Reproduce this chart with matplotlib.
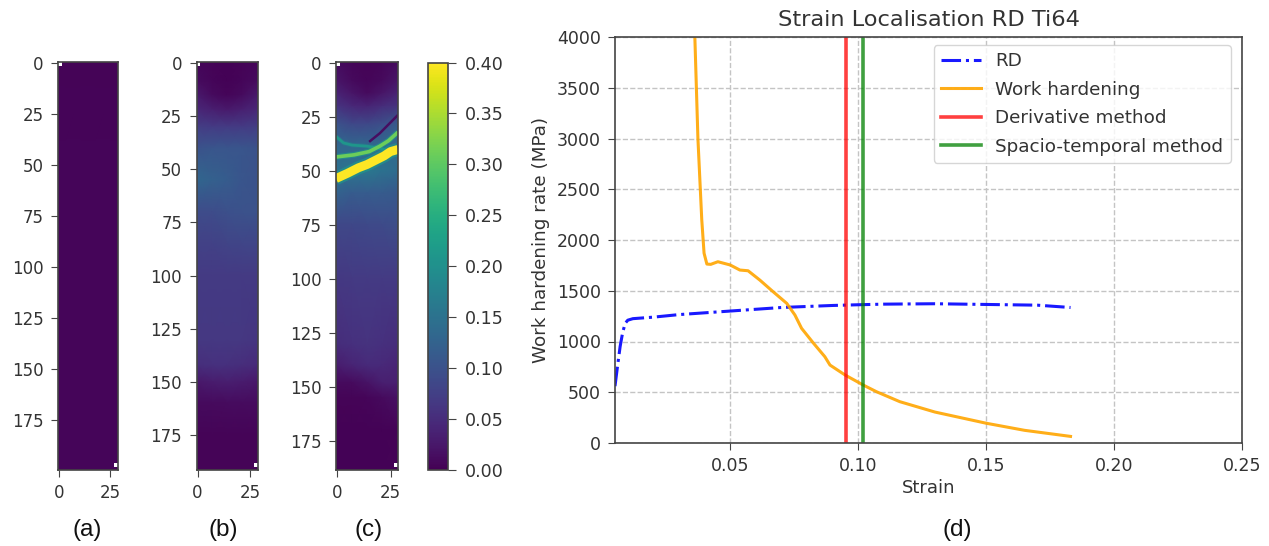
from matplotlib import pyplot as plt
import numpy as np

# heat maps, coarse values
cols_a = [-0.5, 14, 28.5]
rows_a = [-0.5, 50, 100, 150, 199.5]
vals_a = [[0.004, 0.004, 0.004],
          [0.006, 0.006, 0.006],
          [0.006, 0.006, 0.006],
          [0.006, 0.006, 0.006],
          [0.005, 0.005, 0.005]]

cols_b = [-0.5, 7, 14, 21, 28.5]
rows_b = [-0.5, 8, 15, 22, 30, 40, 55, 70, 85, 100, 130, 142, 150, 160, 175, 191.5]
vals_b = [[0.006, 0.004, 0.003, 0.004, 0.006],
          [0.012, 0.006, 0.003, 0.006, 0.012],
          [0.028, 0.012, 0.006, 0.012, 0.028],
          [0.045, 0.035, 0.028, 0.035, 0.045],
          [0.072, 0.070, 0.070, 0.070, 0.072],
          [0.100, 0.105, 0.105, 0.105, 0.100],
          [0.130, 0.122, 0.115, 0.105, 0.100],
          [0.092, 0.092, 0.098, 0.100, 0.100],
          [0.078, 0.078, 0.080, 0.082, 0.082],
          [0.068, 0.068, 0.068, 0.068, 0.068],
          [0.065, 0.065, 0.065, 0.065, 0.062],
          [0.052, 0.055, 0.055, 0.052, 0.048],
          [0.026, 0.030, 0.034, 0.030, 0.026],
          [0.010, 0.010, 0.012, 0.012, 0.012],
          [0.004, 0.004, 0.004, 0.004, 0.004],
          [0.004, 0.004, 0.004, 0.004, 0.004]]

cols_c = [-0.5, 7, 14, 21, 28.5]
rows_c = [-0.5, 8, 14, 20, 28, 38, 50, 60, 75, 100, 130, 140, 148, 155, 170, 188.5]
vals_c = [[0.012, 0.006, 0.004, 0.006, 0.012],
          [0.022, 0.010, 0.005, 0.010, 0.022],
          [0.040, 0.022, 0.012, 0.022, 0.040],
          [0.060, 0.045, 0.040, 0.050, 0.060],
          [0.100, 0.085, 0.085, 0.095, 0.110],
          [0.130, 0.130, 0.130, 0.135, 0.140],
          [0.150, 0.155, 0.160, 0.150, 0.140],
          [0.125, 0.115, 0.115, 0.115, 0.110],
          [0.085, 0.085, 0.088, 0.090, 0.095],
          [0.065, 0.068, 0.068, 0.068, 0.068],
          [0.050, 0.055, 0.058, 0.055, 0.050],
          [0.030, 0.040, 0.048, 0.046, 0.040],
          [0.010, 0.012, 0.020, 0.034, 0.034],
          [0.004, 0.004, 0.005, 0.010, 0.018],
          [0.002, 0.002, 0.002, 0.002, 0.004],
          [0.002, 0.002, 0.002, 0.002, 0.002]]

# bands of panel c: column, row
main_band_x = [-0.5, 5, 10, 14, 18, 22, 25, 28.5]
main_band_y = [53.5, 51, 48.5, 47, 45, 43, 41, 40]
mid_band_x = [-0.5, 8, 15, 20, 24, 28.5]
mid_band_y = [43.5, 42.5, 41, 38.5, 36, 32]
low_band_x = [-0.5, 3, 7, 14, 20, 24]
low_band_y = [34, 37, 38, 38.5, 39.5, 40.5]
dark_band_x = [15, 20, 24, 28.5]
dark_band_y = [36.5, 32.5, 28.5, 24]

# panel d
rd_strain = [0.005, 0.006, 0.007, 0.008, 0.009, 0.010, 0.012, 0.02, 0.03, 0.05, 0.07, 0.09, 0.10, 0.11, 0.13, 0.15, 0.17, 0.183]
rd_stress = [560, 760, 950, 1090, 1180, 1210, 1225, 1240, 1265, 1300, 1335, 1355, 1362, 1368, 1372, 1365, 1358, 1335]
wh_strain = [0.0362, 0.0374, 0.0389, 0.0398, 0.0409, 0.0424, 0.0452, 0.05, 0.0538, 0.057, 0.0616, 0.0668, 0.0721,
             0.0753, 0.0779, 0.0825, 0.087, 0.089, 0.0949, 0.102, 0.1072, 0.1163, 0.13, 0.15, 0.165, 0.183]
wh_rate = [4000, 3000, 2200, 1870, 1763, 1760, 1786, 1754, 1704, 1697, 1605, 1490, 1376,
           1261, 1130, 985, 850, 768, 670, 571, 505, 407, 305, 195, 125, 65]
derivative_strain = 0.0952
spacio_strain = 0.1019

heat_yticks = [0, 25, 50, 75, 100, 125, 150, 175]
heat_xticks = [0, 25]
cbar_ticks = [0.00, 0.05, 0.10, 0.15, 0.20, 0.25, 0.30, 0.35, 0.40]
panel_labels = ['(a)', '(b)', '(c)', '(d)']

W, H = 1269, 546
plt.rcParams['font.size'] = 12.5
plt.rcParams['text.color'] = '#333333'
plt.rcParams['axes.labelcolor'] = '#333333'
plt.rcParams['xtick.labelcolor'] = '#333333'
plt.rcParams['ytick.labelcolor'] = '#333333'
plt.rcParams['axes.edgecolor'] = '#444444'
plt.rcParams['xtick.color'] = '#444444'
plt.rcParams['ytick.color'] = '#444444'
plt.rcParams['axes.linewidth'] = 1.2
plt.rcParams['xtick.major.size'] = 4.8
plt.rcParams['ytick.major.size'] = 4.8
plt.rcParams['xtick.major.pad'] = 5
plt.rcParams['ytick.major.pad'] = 5.5

fig = plt.figure(figsize=(W / 100, H / 100), dpi=100)

def box(x0, y0, x1, y1):
    return fig.add_axes([x0 / W, 1 - y1 / H, (x1 - x0) / W, (y1 - y0) / H])

def heat(ax, cols, rows, vals):
    mesh = ax.pcolormesh(cols, rows, np.array(vals), shading='gouraud', cmap='viridis', vmin=0, vmax=0.4, rasterized=True)
    ax.set_xlim(cols[0], cols[-1])
    ax.set_ylim(rows[-1], rows[0])
    ax.set_xticks(heat_xticks)
    ax.set_yticks(heat_yticks)
    ax.tick_params(labelsize=12)
    # the two empty corner pixels
    ax.plot([cols[0] + 0.8, cols[-1] - 0.9], [rows[0] + 0.8, rows[-1] - 2.5], ls='none', marker='s', ms=3, c='white', mew=0)
    return mesh

ax_a = box(58, 62, 117.5, 470)
heat(ax_a, cols_a, rows_a, vals_a)
ax_b = box(196.5, 62, 257.5, 470)
heat(ax_b, cols_b, rows_b, vals_b)
ax_c = box(336, 62, 398, 470)
mesh = heat(ax_c, cols_c, rows_c, vals_c)

cmap = plt.get_cmap('viridis')
def col(v):
    return cmap(v / 0.4)

ax_c.plot(dark_band_x, dark_band_y, c=col(0.015), lw=1.8, solid_capstyle='butt')
ax_c.plot(low_band_x, low_band_y, c=col(0.16), lw=3.4, alpha=0.6, solid_capstyle='butt')
ax_c.plot(low_band_x, low_band_y, c=col(0.21), lw=2, solid_capstyle='butt')
ax_c.plot(mid_band_x, mid_band_y, c=col(0.22), lw=4.2, alpha=0.6, solid_capstyle='butt')
ax_c.plot(mid_band_x, mid_band_y, c=col(0.31), lw=2.6, solid_capstyle='butt')
ax_c.plot(main_band_x, main_band_y, c=col(0.22), lw=9.5, alpha=0.6, solid_capstyle='butt')
ax_c.plot(main_band_x, main_band_y, c=col(0.40), lw=6.4, solid_capstyle='butt')

cax = box(427.5, 62.5, 448, 470)
cb = fig.colorbar(mesh, cax=cax, ticks=cbar_ticks)
cb.ax.set_yticklabels(['%.2f' % t for t in cbar_ticks])
cb.ax.tick_params(length=6, pad=6, labelsize=12.6)

ax = box(615, 37, 1242, 443)
ax.grid(True, ls='--', c='#c4c4c4', lw=1)
ax.set_axisbelow(True)
ax.plot(rd_strain, rd_stress, c='blue', ls='-.', lw=2.2, alpha=0.9, label='RD')
ax.plot(wh_strain, wh_rate, c='orange', lw=2.2, alpha=0.9, label='Work hardening')
ax.axvline(derivative_strain, c='red', lw=2.6, alpha=0.75, label='Derivative method')
ax.axvline(spacio_strain, c='green', lw=2.6, alpha=0.75, label='Spacio-temporal method')
ax.set_xlim(0.005, 0.25)
ax.set_ylim(0, 4000)
ax.set_xticks([0.05, 0.10, 0.15, 0.20, 0.25])
ax.set_xticklabels(['0.05', '0.10', '0.15', '0.20', '0.25'])
ax.set_yticks(np.arange(0, 4500, 500))
ax.set_xlabel('Strain', labelpad=3, fontsize=13)
ax.set_ylabel('Work hardening rate (MPa)', labelpad=5, fontsize=13.2)
ax.set_title('Strain Localisation RD Ti64', fontsize=16.2, pad=8)
ax.legend(loc='upper right', bbox_to_anchor=(0.982, 0.98), borderaxespad=0, fontsize=13.2, labelspacing=0.57,
          handlelength=2.2, handletextpad=0.77)

for lab, px in zip(panel_labels, [87, 223, 369, 957]):
    fig.text(px / W, 1 - 530 / H, lab, fontsize=17.5, family='Liberation Sans', color='#111111', ha='center', va='center')

fig.savefig('out.png', dpi=100)
